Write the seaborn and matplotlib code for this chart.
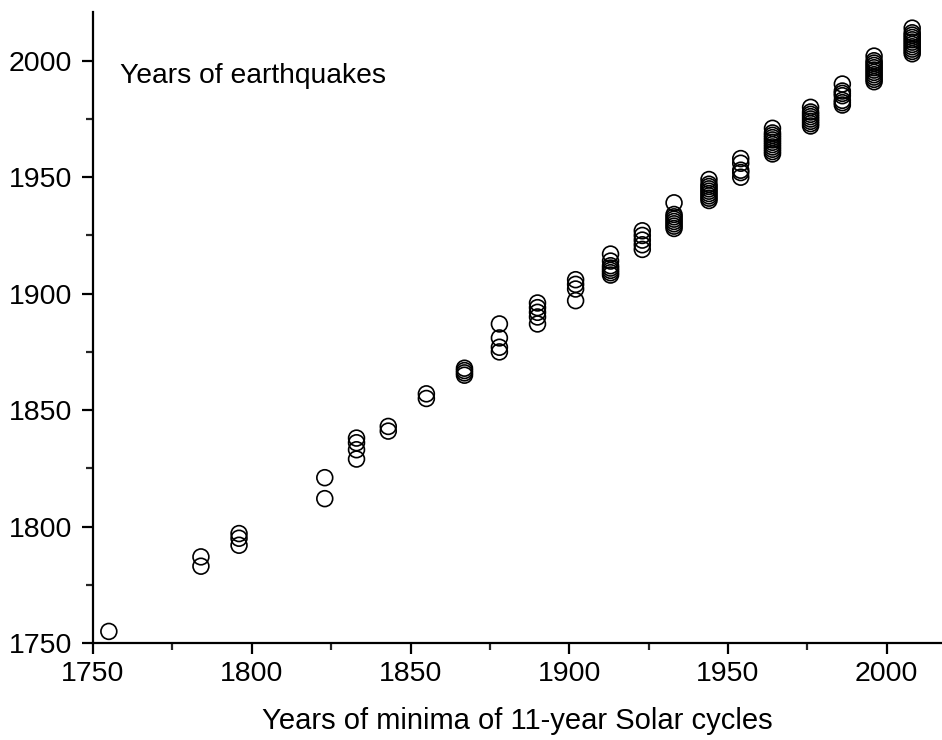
import matplotlib
matplotlib.use("Agg")
import matplotlib.pyplot as plt
import seaborn as sns
import pandas as pd
from matplotlib.ticker import MultipleLocator

# Years of solar-cycle minima (x) and years of earthquakes near each minimum (y)
minima = [1755, 1784, 1796, 1823, 1833, 1843, 1855, 1867, 1878, 1890, 1902,
          1913, 1923, 1933, 1944, 1954, 1964, 1976, 1986, 1996, 2008]
quakes = [
    [1755],
    [1787, 1783],
    [1797, 1795, 1792],
    [1821, 1812],
    [1838, 1836, 1833, 1829],
    [1843, 1841],
    [1857, 1855],
    [1868, 1867, 1866, 1865],
    [1887, 1881, 1877, 1875],
    [1896, 1894, 1892, 1890, 1887],
    [1906, 1904, 1902, 1897],
    [1917, 1914, 1912, 1911, 1910, 1909, 1908],
    [1927, 1925, 1923, 1921, 1919],
    [1939, 1934, 1933, 1932, 1931, 1930, 1929, 1928],
    [1949, 1947, 1946, 1945, 1944, 1943, 1942, 1941, 1940],
    [1958, 1956, 1953, 1952, 1950],
    [1971, 1969, 1968, 1967, 1966, 1965, 1964, 1963, 1962, 1961, 1960],
    [1980, 1978, 1977, 1976, 1975, 1974, 1973, 1972],
    [1990, 1987, 1986, 1985, 1983, 1982, 1981],
    [2002, 2000, 1999, 1998, 1997, 1996, 1995, 1994, 1993, 1992, 1991],
    [2014, 2012, 2011, 2010, 2009, 2008, 2007, 2006, 2005, 2004, 2003],
]
x_label = "Years of minima of 11-year Solar cycles"
annotation = "Years of earthquakes"

rows = [(m, q) for m, qs in zip(minima, quakes) for q in qs]
df = pd.DataFrame(rows, columns=["minimum", "quake"])

sns.set_theme(style="ticks")
plt.rcParams["font.family"] = ["Liberation Sans", "DejaVu Sans"]

fig = plt.figure(figsize=(9.42, 7.40), dpi=100)
ax = fig.add_axes([0.0987, 0.131, 0.9, 0.853])

sns.scatterplot(data=df, x="minimum", y="quake", ax=ax, marker="o", s=130,
                facecolor="none", edgecolor="black", linewidth=1.2)

ax.set_xlim(1750, 2017)
ax.set_ylim(1750, 2021)
ax.xaxis.set_major_locator(MultipleLocator(50))
ax.xaxis.set_minor_locator(MultipleLocator(25))
ax.yaxis.set_major_locator(MultipleLocator(50))
ax.yaxis.set_minor_locator(MultipleLocator(25))
ax.tick_params(which="major", direction="out", length=8, width=1.6,
               labelsize=20.5, colors="black", pad=5)
ax.tick_params(axis="y", which="major", pad=7)
ax.tick_params(which="minor", direction="out", length=5, width=1.6)
for side in ["top", "right"]:
    ax.spines[side].set_visible(False)
for side in ["left", "bottom"]:
    ax.spines[side].set_linewidth(1.6)
    ax.spines[side].set_color("black")

ax.set_xlabel(x_label, fontsize=21, labelpad=14, color="black")
ax.set_ylabel("")
ax.text(1758.5, 1993.5, annotation, fontsize=20.3, va="center", ha="left", color="black")

fig.savefig("out.png", dpi=100)
